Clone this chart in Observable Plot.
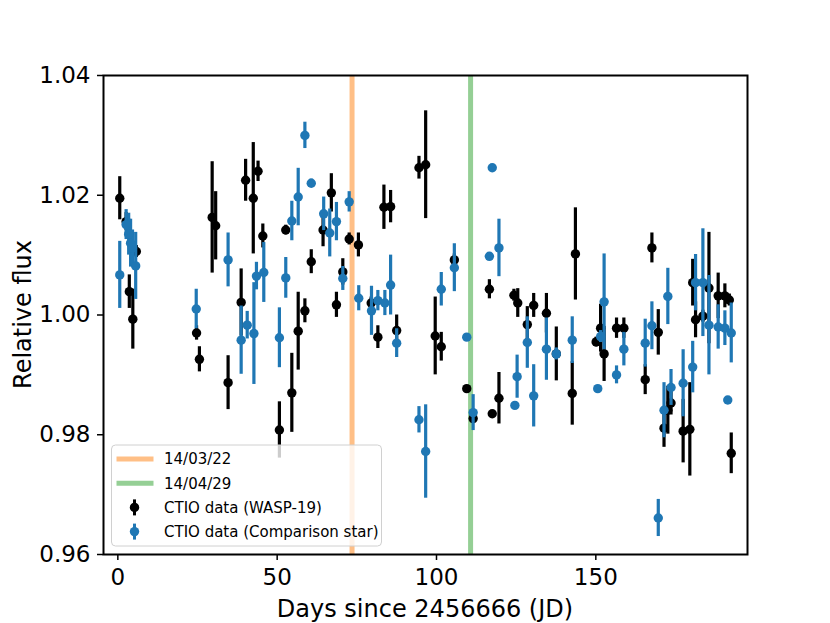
<!DOCTYPE html>
<html>
<head>
<meta charset="utf-8">
<script src="https://cdn.jsdelivr.net/npm/d3@7"></script>
<script src="https://cdn.jsdelivr.net/npm/@observablehq/plot@0.6"></script>
<style>
  html, body { margin: 0; padding: 0; background: white; }
  #chart { width: 830px; height: 623px; }
</style>
</head>
<body>
<div id="chart"></div>
<script>
// ---- Data ----
// WASP-19 (black): day, relative flux, error
const waspDays = [0.6, 2.6, 3.6, 4.7, 5.8, 24.7, 25.6, 29.6, 30.7, 34.6, 38.7, 40.1, 42.5, 44.0, 45.5,
  50.7, 52.7, 54.6, 56.6, 58.7, 60.7, 64.4, 67.0, 68.6, 70.6, 72.6, 75.5, 79.5, 81.6, 83.5, 85.6, 87.5,
  94.5, 96.6, 99.6, 101.5, 105.6, 109.5, 111.5, 116.6, 117.5, 119.6, 124.3, 125.5, 128.5, 130.5, 134.5,
  137.6, 142.6, 143.6, 150.1, 151.5, 152.6, 156.5, 158.8, 165.5, 167.6, 169.6, 171.4, 172.6, 173.6,
  177.4, 179.5, 180.4, 181.3, 183.6, 185.5, 188.4, 190.5, 191.9, 192.5];
const waspFlux = [1.0195, 1.0156, 1.0039, 0.9993, 1.0106, 0.9970, 0.9926, 1.0163, 1.0149, 0.9887, 1.0021, 1.0225, 1.0195, 1.0240, 1.0132,
  0.9808, 1.0142, 0.9870, 0.9973, 1.0007, 1.0089, 1.0142, 1.0204, 1.0017, 1.0072, 1.0127, 1.0117, 1.0020, 0.9963, 1.0180, 1.0181, 0.9974,
  1.0246, 1.0251, 0.9965, 0.9947, 1.0092, 0.9877, 0.9827, 1.0043, 0.9835, 0.9861, 1.0033, 1.0020, 0.9984, 1.0016, 1.0003,
  0.9935, 0.9869, 1.0102, 0.9955, 0.9978, 0.9935, 0.9978, 0.9978, 0.9892, 1.0112, 0.9971, 0.9811, 0.9841, 0.9853,
  0.9806, 0.9809, 1.0054, 0.9992, 0.9998, 1.0045, 1.0032, 1.0032, 1.0025, 0.9769];
const waspErr = [0.0036, 0.0015, 0.0028, 0.0050, 0.0010, 0.0012, 0.0021, 0.0093, 0.0057, 0.0045, 0.0056, 0.0035, 0.0093, 0.0017, 0.0020,
  0.0047, 0.0008, 0.0066, 0.0065, 0.0020, 0.0020, 0.0028, 0.0032, 0.0021, 0.0022, 0.0010, 0.0020, 0.0010, 0.0019, 0.0037, 0.0027, 0.0026,
  0.0019, 0.0090, 0.0065, 0.0024, 0.0010, 0.0004, 0.0006, 0.0016, 0.0004, 0.0043, 0.0010, 0.0024, 0.0030, 0.0020, 0.0033,
  0.0045, 0.0053, 0.0077, 0.0008, 0.0040, 0.0046, 0.0017, 0.0017, 0.0025, 0.0025, 0.0038, 0.0032, 0.0040, 0.0020,
  0.0053, 0.0078, 0.0039, 0.0030, 0.0010, 0.0093, 0.0038, 0.0020, 0.0010, 0.0034];

// Comparison star (blue): day, relative flux, error
const compDays = [0.6, 2.6, 3.4, 4.0, 4.6, 5.6, 24.6, 34.6, 38.7, 40.6, 42.7, 43.5, 45.8, 50.7, 52.7, 54.6, 56.6,
  58.7, 60.7, 64.6, 66.5, 68.6, 70.6, 72.6, 75.6, 79.6, 81.6, 83.8, 85.6, 87.5, 94.5, 96.6, 101.5, 105.6,
  109.5, 111.5, 116.6, 117.5, 119.6, 124.6, 125.3, 128.5, 130.5, 134.5, 137.6, 142.6, 150.6, 151.5, 152.6,
  156.5, 158.8, 165.5, 167.6, 169.6, 171.4, 172.6, 173.6, 177.4, 180.4, 181.3, 183.6, 185.5, 188.4, 190.5, 191.4, 192.5];
const compFlux = [1.0067, 1.0151, 1.0135, 1.0120, 1.0112, 1.0082, 1.0010, 1.0092, 0.9958, 0.9983, 0.9969, 1.0065, 1.0071, 0.9962, 1.0062, 1.0157, 1.0197,
  1.0300, 1.0220, 1.0169, 1.0137, 1.0156, 1.0061, 1.0189, 1.0028, 1.0007, 1.0024, 1.0020, 1.0050, 0.9953, 0.9825, 0.9772, 1.0043, 1.0079,
  0.9963, 0.9837, 1.0098, 1.0246, 1.0112, 0.9849, 0.9897, 0.9954, 0.9865, 0.9943, 0.9935, 0.9958, 0.9877, 0.9964, 1.0022,
  0.9900, 0.9943, 0.9953, 0.9982, 0.9661, 0.9841, 1.0031, 0.9879, 0.9886, 0.9913, 1.0054, 1.0054, 0.9983, 0.9980, 0.9978, 0.9858, 0.9970];
const compErr = [0.0056, 0.0025, 0.0035, 0.0040, 0.0030, 0.0056, 0.0033, 0.0045, 0.0057, 0.0023, 0.0085, 0.0023, 0.0050, 0.0050, 0.0034, 0.0033, 0.0048,
  0.0022, 0.0007, 0.0028, 0.0040, 0.0032, 0.0020, 0.0017, 0.0021, 0.0041, 0.0017, 0.0021, 0.0050, 0.0024, 0.0022, 0.0078, 0.0028, 0.0040,
  0.0005, 0.0030, 0.0005, 0.0005, 0.0048, 0.0005, 0.0036, 0.0043, 0.0052, 0.0052, 0.0010, 0.0039, 0.0005, 0.0010, 0.0080,
  0.0015, 0.0028, 0.0040, 0.0040, 0.0031, 0.0046, 0.0047, 0.0030, 0.0056, 0.0043, 0.0047, 0.0090, 0.0083, 0.0037, 0.0029, 0.0005, 0.0050];

// Event dates (vertical lines)
const eventDays = [73.5, 110.7];
const eventLabels = ["14/03/22", "14/04/29"];
const eventColors = ["#ffbf86", "#95cf95"];

const seriesLabels = ["CTIO data (WASP-19)", "CTIO data (Comparison star)"];
const seriesColors = ["#000000", "#1f77b4"];

const xTicks = [0, 50, 100, 150];
const yTicks = [0.96, 0.98, 1.00, 1.02, 1.04];
const xLabel = "Days since 2456666 (JD)";
const yLabel = "Relative flux";

// ---- Build tables ----
const wasp = waspDays.map((d, i) => ({day: d, flux: waspFlux[i], err: waspErr[i]}));
const comp = compDays.map((d, i) => ({day: d, flux: compFlux[i], err: compErr[i]}));
const events = eventDays.map((d, i) => ({day: d, label: eventLabels[i], color: eventColors[i]}));

const FONT = "DejaVu Sans";
const R = 4.7;

const chart = Plot.plot({
  width: 830,
  height: 623,
  marginLeft: 103,
  marginRight: 83,
  marginTop: 75,
  marginBottom: 69,
  style: {fontFamily: FONT, fontSize: "23px", background: "white", color: "black", overflow: "visible"},
  x: {domain: [-4.5, 197.6]},
  y: {domain: [0.96, 1.04]},
  marks: [
    Plot.ruleX(events, {x: "day", stroke: "color", strokeWidth: 5}),
    Plot.ruleX(wasp, {x: "day", y1: d => d.flux - d.err, y2: d => d.flux + d.err, stroke: seriesColors[0], strokeWidth: 3.2}),
    Plot.dot(wasp, {x: "day", y: "flux", r: R, fill: seriesColors[0], stroke: "none"}),
    Plot.ruleX(comp, {x: "day", y1: d => d.flux - d.err, y2: d => d.flux + d.err, stroke: seriesColors[1], strokeWidth: 3.2}),
    Plot.dot(comp, {x: "day", y: "flux", r: R, fill: seriesColors[1], stroke: "none"}),
    Plot.axisX({ticks: xTicks, tickFormat: d => String(d), tickSize: 6, tickPadding: 8, strokeWidth: 1.5, label: null, fontSize: 23}),
    Plot.axisY({ticks: yTicks, tickFormat: d3.format(".2f"), tickSize: 6, tickPadding: 7, strokeWidth: 1.5, label: null, fontSize: 23}),
    Plot.frame({stroke: "black", strokeWidth: 2})
  ]
});

document.getElementById("chart").appendChild(chart);

// ---- Axis labels & legend drawn into the same SVG ----
const svg = d3.select(chart);
const W = 830, H = 623, mL = 103, mR = 83, mT = 75, mB = 69;
const cx = mL + (W - mL - mR) / 2;
const cy = mT + (H - mT - mB) / 2;

svg.append("text")
  .attr("x", cx).attr("y", 617)
  .attr("text-anchor", "middle")
  .attr("font-family", FONT).attr("font-size", 24)
  .attr("fill", "black")
  .text(xLabel);

svg.append("text")
  .attr("transform", `translate(31,${cy}) rotate(-90)`)
  .attr("text-anchor", "middle")
  .attr("font-family", FONT).attr("font-size", 24)
  .attr("fill", "black")
  .text(yLabel);

// Legend (inside the axes, lower-left)
const lg = svg.append("g").attr("transform", "translate(111.5,445)");
lg.append("rect")
  .attr("x", 0).attr("y", 0).attr("width", 270).attr("height", 101)
  .attr("rx", 4).attr("ry", 4)
  .attr("fill", "white").attr("fill-opacity", 0.8)
  .attr("stroke", "#d0d0d0").attr("stroke-width", 1);

const entries = [
  ...events.map(e => ({type: "line", label: e.label, color: e.color})),
  ...seriesLabels.map((l, i) => ({type: "err", label: l, color: seriesColors[i]}))
];
entries.forEach((e, i) => {
  const y = 14 + i * 24.2;
  const g = lg.append("g").attr("transform", `translate(0,${y})`);
  if (e.type === "line") {
    g.append("line").attr("x1", 5).attr("x2", 42).attr("y1", 0).attr("y2", 0)
      .attr("stroke", e.color).attr("stroke-width", 5);
  } else {
    g.append("line").attr("x1", 23).attr("x2", 23).attr("y1", -8).attr("y2", 8)
      .attr("stroke", e.color).attr("stroke-width", 3);
    g.append("circle").attr("cx", 23).attr("cy", 0).attr("r", R).attr("fill", e.color);
  }
  g.append("text")
    .attr("x", 52.5).attr("y", 0).attr("dy", "0.36em")
    .attr("text-anchor", "start")
    .attr("font-family", FONT).attr("font-size", 15)
    .attr("fill", "black")
    .text(e.label);
});
</script>
</body>
</html>
